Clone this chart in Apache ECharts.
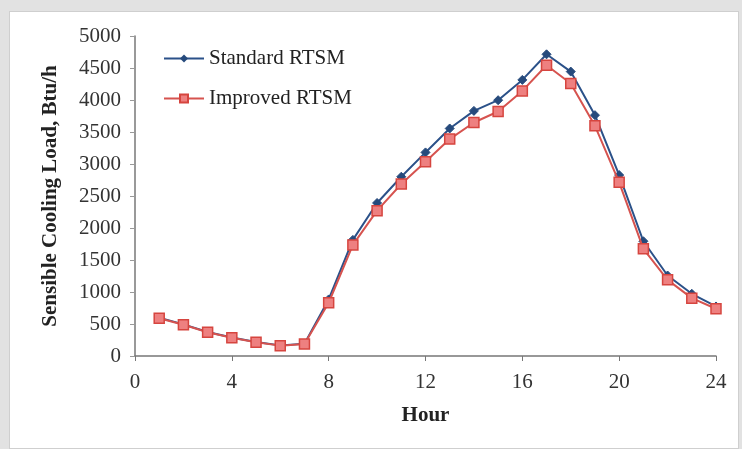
<!DOCTYPE html>
<html><head><meta charset="utf-8">
<script src="https://cdn.jsdelivr.net/npm/echarts@6/dist/echarts.min.js"></script>
<style>
html,body{margin:0;padding:0;background:#e2e2e2;}
#wrap{position:absolute;left:9px;top:11px;width:728px;height:436px;background:#fff;border:1px solid #cfcfcf;}
#c{position:absolute;left:0;top:0;width:742px;height:449px;}
</style></head>
<body><div id="wrap"></div><div id="c"></div>
<script>
const hours = [1,2,3,4,5,6,7,8,9,10,11,12,13,14,15,16,17,18,19,20,21,22,23,24];
const standard = [598,494,374,290,218,166,192,884,1814,2391,2801,3181,3555,3830,3997,4314,4714,4444,3763,2827,1793,1258,972,774];
const improved = [590,488,370,286,214,162,188,832,1736,2271,2687,3035,3389,3649,3820,4142,4543,4257,3597,2713,1674,1190,904,738];
const xTicks = [0,4,8,12,16,20,24];
const yTicks = [0,500,1000,1500,2000,2500,3000,3500,4000,4500,5000];
const font = '"Liberation Serif", "DejaVu Serif", serif';
const chart = echarts.init(document.getElementById('c'));
chart.setOption({
  backgroundColor: 'transparent',
  animation: false,
  grid: {left:135, right:26, top:36, bottom:93},
  legend: {
    left: 158, top: 43, orient: 'vertical', itemGap: 19, itemWidth: 40, itemHeight: 10,
    textStyle: {fontFamily: font, fontSize: 21, color: '#222'},
    data: ['Standard RTSM','Improved RTSM']
  },
  xAxis: {
    type: 'value', min: 0, max: 24, interval: 4,
    name: 'Hour', nameLocation: 'middle', nameGap: 49,
    nameTextStyle: {fontFamily: font, fontSize: 21, fontWeight: 'bold', color: '#222'},
    axisLine: {lineStyle: {color: '#777', width: 1.5}},
    axisTick: {show: true, length: 5, lineStyle: {color: '#777'}},
    axisLabel: {fontFamily: font, fontSize: 21, color: '#333', margin: 16, formatter: v => xTicks.includes(v) ? String(v) : ''},
    splitLine: {show: false}
  },
  yAxis: {
    type: 'value', min: 0, max: 5000, interval: 500,
    name: 'Sensible Cooling Load, Btu/h', nameLocation: 'middle', nameGap: 74,
    nameTextStyle: {fontFamily: font, fontSize: 21, fontWeight: 'bold', color: '#222'},
    axisLine: {show: true, lineStyle: {color: '#777', width: 1.5}},
    axisTick: {show: true, length: 5, lineStyle: {color: '#999'}},
    axisLabel: {fontFamily: font, fontSize: 21, color: '#333', margin: 14, formatter: v => yTicks.includes(v) ? String(v) : ''},
    splitLine: {show: false}
  },
  series: [
    {
      name: 'Standard RTSM', type: 'line',
      data: hours.map((h,i)=>[h, standard[i]]),
      symbol: 'diamond', symbolSize: 9,
      lineStyle: {color: '#2b5189', width: 2},
      itemStyle: {color: '#264a7c', borderColor: '#264a7c'},
      z: 2
    },
    {
      name: 'Improved RTSM', type: 'line',
      data: hours.map((h,i)=>[h, improved[i]]),
      symbol: 'rect', symbolSize: 10,
      lineStyle: {color: '#d6534f', width: 2},
      itemStyle: {color: '#ee8080', borderColor: '#d6453f', borderWidth: 1.5},
      z: 3
    }
  ]
});
</script></body></html>
